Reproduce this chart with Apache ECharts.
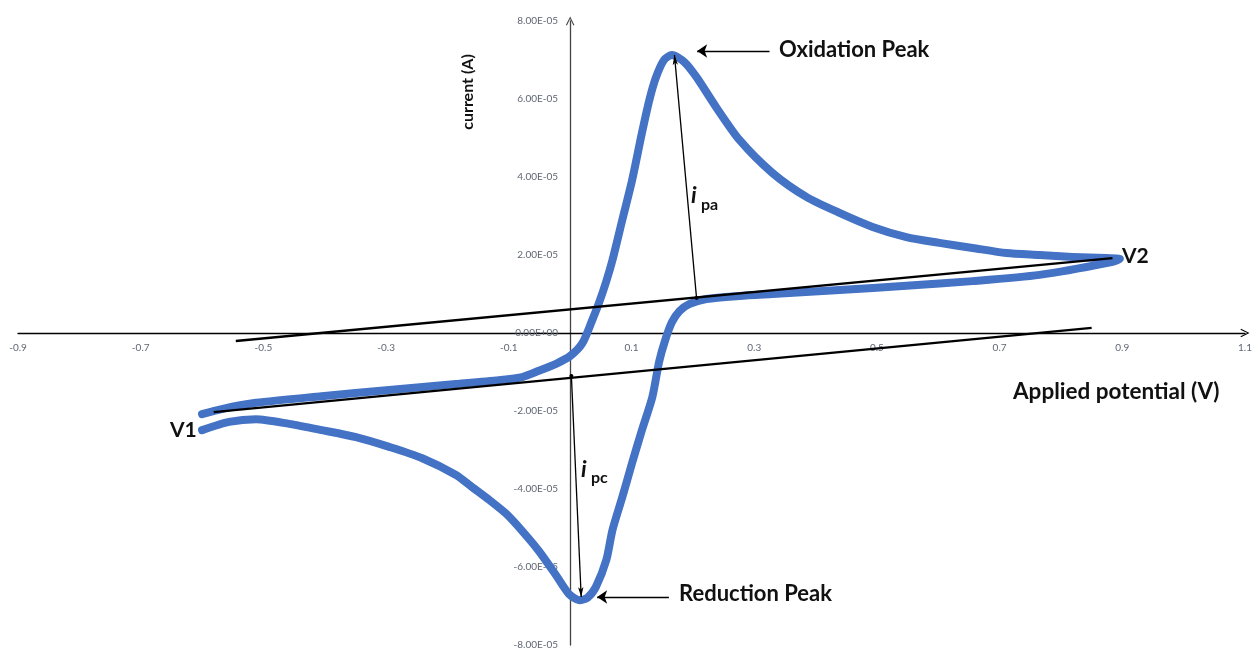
<!DOCTYPE html>
<html>
<head>
<meta charset="utf-8">
<title>Cyclic voltammogram</title>
<script src="https://cdn.jsdelivr.net/npm/echarts@6/dist/echarts.min.js"></script>
<style>
  html, body { margin: 0; padding: 0; background: #ffffff; }
  #chart { width: 1255px; height: 651px; }
</style>
</head>
<body>
<div id="chart"></div>
<script>
// Full cycle: V1 -> anodic sweep -> oxidation peak -> V2 -> cathodic sweep -> reduction peak -> V1
const scanPotential = [
  -0.600, -0.568, -0.512, -0.405, -0.295, -0.186, -0.116, -0.078, -0.051, -0.023,
   0.000,  0.020,  0.036,  0.047,  0.059,  0.069,  0.085,  0.101,  0.117,  0.129,
   0.140,  0.153,  0.166,  0.186,  0.206,  0.238,  0.276,  0.330,  0.385,  0.439,
   0.493,  0.548,  0.602,  0.656,  0.711,  0.765,  0.819,  0.874,  0.896,
   0.874,  0.765,  0.656,  0.548,  0.439,  0.330,  0.276,  0.222,  0.194,  0.178,
   0.166,  0.155,  0.145,  0.134,  0.117,  0.101,  0.085,  0.069,  0.059,  0.042,
   0.028,  0.015, -0.002, -0.023, -0.051, -0.078, -0.104, -0.132, -0.160, -0.186,
  -0.241, -0.295, -0.349, -0.405, -0.458, -0.512, -0.556, -0.600
];
const scanCurrent = [
  -2.08e-5, -1.95e-5, -1.79e-5, -1.62e-5, -1.46e-5, -1.31e-5, -1.21e-5, -1.13e-5, -0.97e-5, -0.79e-5,
  -0.59e-5, -0.26e-5,  0.33e-5,  0.77e-5,  1.33e-5,  1.87e-5,  2.90e-5,  3.92e-5,  5.13e-5,  5.97e-5,
   6.56e-5,  7.00e-5,  7.13e-5,  6.95e-5,  6.56e-5,  5.79e-5,  4.95e-5,  4.10e-5,  3.49e-5,  3.08e-5,
   2.72e-5,  2.46e-5,  2.31e-5,  2.18e-5,  2.05e-5,  2.00e-5,  1.95e-5,  1.92e-5,  1.90e-5,
   1.79e-5,  1.49e-5,  1.33e-5,  1.21e-5,  1.10e-5,  1.00e-5,  0.95e-5,  0.87e-5,  0.74e-5,  0.56e-5,
   0.28e-5, -0.18e-5, -0.74e-5, -1.64e-5, -2.49e-5, -3.33e-5, -4.21e-5, -5.05e-5, -5.82e-5, -6.51e-5,
  -6.79e-5, -6.85e-5, -6.69e-5, -6.21e-5, -5.59e-5, -5.08e-5, -4.64e-5, -4.28e-5, -3.95e-5, -3.64e-5,
  -3.21e-5, -2.92e-5, -2.67e-5, -2.49e-5, -2.33e-5, -2.21e-5, -2.28e-5, -2.49e-5
];

// Extrapolated baselines used to measure the peak currents: [potential, current] end points
const anodicBaseline  = [[-0.545, -0.205e-5], [0.884, 1.92e-5]];
const cathodicBaseline = [[-0.581, -2.03e-5], [0.850, 0.13e-5]];

// Peak-current arrows (from baseline to peak) and label pointer arrows
const ipaArrow = [[0.206, 0.90e-5], [0.170, 7.13e-5]];
const ipcArrow = [[0.002, -1.10e-5], [0.018, -6.77e-5]];
const oxidationPointer = [[0.325, 7.23e-5], [0.207, 7.23e-5]];
const reductionPointer = [[0.161, -6.77e-5], [0.044, -6.77e-5]];

const xLabelValues = [-0.9, -0.7, -0.5, -0.3, -0.1, 0.1, 0.3, 0.5, 0.7, 0.9, 1.1];

const zip = (xs, ys) => xs.map((x, i) => [x, ys[i]]);

function sciLabel(v) {
  if (Math.abs(v) < 1e-12) return '0.00E+00';
  const parts = v.toExponential(2).split('e');
  const sign = parts[1][0] === '-' ? '-' : '+';
  const digits = parts[1].replace(/[+-]/, '');
  return parts[0] + 'E' + sign + (digits.length < 2 ? '0' + digits : digits);
}

const chevron = 'path://M0,10 L5,0 L10,10 L8.8,10.6 L5,2.6 L1.2,10.6 Z';
const labelFont = "'Lato', 'Open Sans', sans-serif";
const tickColor = '#5f6673';

// Plot box; the axes cross at (0 V, 0 A) inside it
const GRID = { left: 18, right: 10, top: 21, bottom: 6 };
const W = 1255, H = 651;
const X_MIN = -0.9, X_MAX = 1.1;
const plotW = W - GRID.left - GRID.right;
const plotH = H - GRID.top - GRID.bottom;
const yAxisShift = -plotW * (0 - X_MIN) / (X_MAX - X_MIN);   // move y axis to 0 V
const xAxisShift = -plotH / 2;                                 // move x axis to 0 A

function arrowLine(seg, startSymbol, width) {
  return {
    type: 'line', data: [], silent: true,
    markLine: {
      silent: true, animation: false,
      symbol: [startSymbol, 'arrow'],
      symbolSize: startSymbol === 'none' ? 10 : [4, 10],
      label: { show: false },
      lineStyle: { color: '#000', width: width, type: 'solid' },
      itemStyle: { color: '#000' },
      emphasis: { disabled: true },
      data: [[{ coord: seg[0] }, { coord: seg[1] }]]
    },
    z: 6
  };
}

function text(x, y, str, font, extra) {
  return Object.assign({
    type: 'text', x: x, y: y, silent: true,
    style: { text: str, fill: '#111', font: font, align: 'left', verticalAlign: 'middle' }
  }, extra || {});
}

const chart = echarts.init(document.getElementById('chart'), null, { renderer: 'canvas' });

chart.setOption({
  animation: false,
  backgroundColor: '#ffffff',
  grid: Object.assign({ containLabel: false, outerBoundsMode: 'none' }, GRID),
  xAxis: {
    type: 'value', min: X_MIN, max: X_MAX, interval: 0.1,
    position: 'bottom', offset: xAxisShift,
    axisLine: {
      onZero: false, symbol: ['none', chevron], symbolSize: [11, 9],
      lineStyle: { color: '#000', width: 1.3 }
    },
    axisTick: { show: false },
    splitLine: { show: false },
    axisLabel: {
      interval: 0, margin: 10, color: tickColor, fontFamily: labelFont, fontSize: 10,
      showMinLabel: true, showMaxLabel: true, hideOverlap: false,
      formatter: function (v) {
        const hit = xLabelValues.find(t => Math.abs(t - v) < 1e-9);
        return hit === undefined ? '' : hit.toFixed(1);
      }
    }
  },
  yAxis: {
    type: 'value', min: -8e-5, max: 8e-5, interval: 2e-5,
    position: 'left', offset: yAxisShift,
    axisLine: {
      onZero: false, symbol: ['none', chevron], symbolSize: [11, 9],
      lineStyle: { color: '#444', width: 1.3 }
    },
    axisTick: { show: false },
    splitLine: { show: false },
    axisLabel: {
      margin: 12, color: tickColor, fontFamily: labelFont, fontSize: 10,
      showMinLabel: true, showMaxLabel: true, hideOverlap: false,
      formatter: sciLabel
    }
  },
  series: [
    {
      name: 'CV', type: 'line', data: zip(scanPotential, scanCurrent),
      showSymbol: false, symbol: 'none', smooth: 0.25,
      lineStyle: { color: '#4472C4', width: 8, cap: 'round', join: 'round' },
      silent: true, z: 2
    },
    {
      type: 'line', data: anodicBaseline, showSymbol: false, symbol: 'none',
      lineStyle: { color: '#000', width: 2.4 }, silent: true, z: 4
    },
    {
      type: 'line', data: cathodicBaseline, showSymbol: false, symbol: 'none',
      lineStyle: { color: '#000', width: 2.4 }, silent: true, z: 4
    },
    arrowLine(ipaArrow, 'circle', 1.3),
    arrowLine(ipcArrow, 'circle', 1.3),
    arrowLine(oxidationPointer, 'none', 1.3),
    arrowLine(reductionPointer, 'none', 1.3)
  ],
  graphic: [
    text(779, 50, 'Oxidation Peak', "bold 22px " + labelFont),
    text(679, 594, 'Reduction Peak', "bold 22px " + labelFont),
    text(1013, 392, 'Applied potential (V)', "bold 22.5px " + labelFont),
    {
      type: 'text', x: 468, y: 92, rotation: Math.PI / 2, silent: true,
      style: { text: 'current (A)', fill: '#111', font: "bold 16px " + labelFont, align: 'center', verticalAlign: 'middle' }
    },
    text(170, 430, 'V1', "bold 21px " + labelFont),
    text(1122, 256, 'V2', "bold 21px " + labelFont),
    text(691, 196, 'i', "italic bold 23px " + labelFont),
    text(701, 205, 'pa', "bold 16px " + labelFont),
    text(581, 470, 'i', "italic bold 23px " + labelFont),
    text(591, 478, 'pc', "bold 16px " + labelFont)
  ]
});
</script>
</body>
</html>
